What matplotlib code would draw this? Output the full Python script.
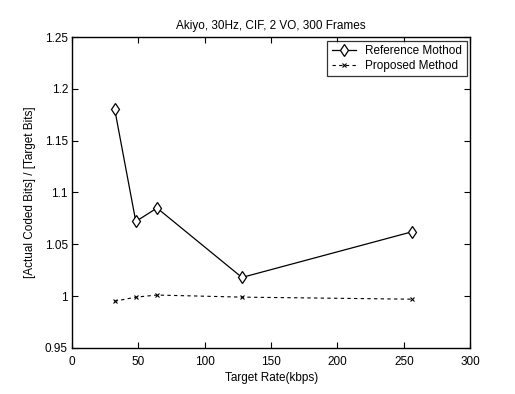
import matplotlib
matplotlib.use("Agg")
import matplotlib.pyplot as plt

plt.rcParams['font.family'] = ['Liberation Sans', 'DejaVu Sans']

rates = [32, 48, 64, 128, 256]
reference = [1.181, 1.072, 1.085, 1.018, 1.062]
proposed = [0.995, 0.999, 1.001, 0.999, 0.997]
xticks = [0, 50, 100, 150, 200, 250, 300]
yticks = [0.95, 1.0, 1.05, 1.1, 1.15, 1.2, 1.25]
yticklabels = ['0.95', '1', '1.05', '1.1', '1.15', '1.2', '1.25']

fig = plt.figure(figsize=(5.15, 3.94), dpi=100)
ax = fig.add_axes([0.14, 0.117, 0.773, 0.789])
ax.plot(rates, reference, '-', color='black', lw=0.9, marker='d', ms=6,
        mfc='white', mec='black', mew=0.9, label='Reference Mothod')
ax.plot(rates, proposed, '--', color='black', lw=0.8, marker='x', ms=3.5,
        mew=0.8, dashes=(3, 3), label='Proposed Method')
ax.set_xlim(0, 300)
ax.set_ylim(0.95, 1.25)
ax.set_xticks(xticks)
ax.set_yticks(yticks)
ax.set_yticklabels(yticklabels)
ax.tick_params(direction='in', top=True, right=True, labelsize=8.5, length=4, pad=3)
ax.tick_params(axis='x', pad=6)
for s in ax.spines.values():
    s.set_linewidth(1.0)
ax.set_title('Akiyo, 30Hz, CIF, 2 VO, 300 Frames', fontsize=8.5, pad=6)
ax.set_xlabel('Target Rate(kbps)', fontsize=8.5, labelpad=3)
ax.set_ylabel('[Actual Coded Bits] / [Target Bits]', fontsize=8.5, labelpad=6)
leg = ax.legend(loc='upper right', fontsize=8.5, frameon=True, fancybox=False,
                edgecolor='black', borderpad=0.4, handlelength=2.0,
                borderaxespad=0.3, labelspacing=0.2)
leg.get_frame().set_linewidth(0.9)
fig.savefig('out.png', dpi=100)
